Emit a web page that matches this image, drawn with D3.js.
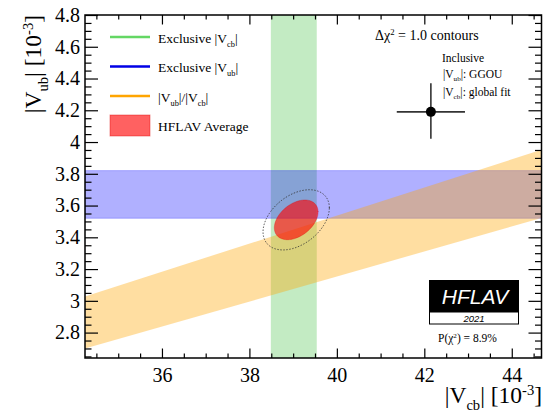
<!DOCTYPE html>
<html>
<head>
<meta charset="utf-8">
<script src="https://cdn.jsdelivr.net/npm/d3@7"></script>
<style>
body { margin: 0; background: #fff; }
svg { display: block; }
text { font-family: "Liberation Serif", "Times New Roman", serif; fill: #000; }
</style>
</head>
<body>
<div id="chart"></div>
<script>
//Chart values (all in units of 10^-3)
var xDomain = [34.24, 44.68];
var yDomain = [2.64, 4.8];
var xTickLabels = [36, 38, 40, 42, 44];
var yTickLabels = [2.8, 3, 3.2, 3.4, 3.6, 3.8, 4, 4.2, 4.4, 4.6, 4.8];

//Exclusive bands, lower and upper edge
var vcbExclusive = [38.49, 39.54];
var vubExclusive = [3.52, 3.82];
//|Vub|/|Vcb| band, lower and upper ratio
var ratioBand = [0.07883, 0.08843];

//HFLAV average: centre, sigmas, correlation
var avgCenter = [39.07, 3.51];
var avgSigma = [0.50, 0.125];
var avgRho = 0.40;
var contourScale = [1, Math.sqrt(2.3)]; //solid = dchi2 1, dotted = 68% 2D

//Inclusive point
var inclPoint = [42.15, 4.19];
var inclErrX = [0.78, 0.78];
var inclErrY = [0.17, 0.18];

//Width and height
var w = 545;
var h = 412;
var plotL = 85, plotR = 541.5, plotT = 15, plotB = 358;

var xScale = d3.scaleLinear().domain(xDomain).range([plotL, plotR]);
var yScale = d3.scaleLinear().domain(yDomain).range([plotB, plotT]);

var svg = d3.select("#chart")
  .append("svg")
  .attr("width", w)
  .attr("height", h);

svg.append("clipPath")
  .attr("id", "plotclip")
  .append("rect")
  .attr("x", plotL).attr("y", plotT)
  .attr("width", plotR - plotL).attr("height", plotB - plotT);

var plot = svg.append("g").attr("clip-path", "url(#plotclip)");

//Green vertical band
plot.append("rect")
  .attr("x", xScale(vcbExclusive[0]))
  .attr("y", plotT)
  .attr("width", xScale(vcbExclusive[1]) - xScale(vcbExclusive[0]))
  .attr("height", plotB - plotT)
  .attr("fill", "rgb(0,170,0)")
  .attr("fill-opacity", 0.235);

//Blue horizontal band
plot.append("rect")
  .attr("x", plotL)
  .attr("y", yScale(vubExclusive[1]))
  .attr("width", plotR - plotL)
  .attr("height", yScale(vubExclusive[0]) - yScale(vubExclusive[1]))
  .attr("fill", "rgb(0,0,255)")
  .attr("fill-opacity", 0.31)
  .attr("stroke", "rgba(0,0,255,0.25)")
  .attr("stroke-width", 1);

//Orange ratio band
var ratioPts = [
  [xDomain[0], ratioBand[0] * xDomain[0]],
  [xDomain[1], ratioBand[0] * xDomain[1]],
  [xDomain[1], ratioBand[1] * xDomain[1]],
  [xDomain[0], ratioBand[1] * xDomain[0]]
];
plot.append("path")
  .attr("d", d3.line()
    .x(function(d) { return xScale(d[0]); })
    .y(function(d) { return yScale(d[1]); })(ratioPts) + "Z")
  .attr("fill", "rgb(255,165,0)")
  .attr("fill-opacity", 0.37);

//Ellipse from centre, sigmas and correlation
var ellipse = function(k) {
  var pts = d3.range(0, 2 * Math.PI + 0.05, 0.04).map(function(t) {
    return [
      avgCenter[0] + k * avgSigma[0] * Math.cos(t),
      avgCenter[1] + k * avgSigma[1] * (avgRho * Math.cos(t) + Math.sqrt(1 - avgRho * avgRho) * Math.sin(t))
    ];
  });
  return d3.line()
    .x(function(d) { return xScale(d[0]); })
    .y(function(d) { return yScale(d[1]); })(pts) + "Z";
};

plot.append("path")
  .attr("d", ellipse(contourScale[0]))
  .attr("fill", "rgb(255,0,0)")
  .attr("fill-opacity", 0.62)
  .attr("stroke", "rgba(220,0,0,0.3)");

plot.append("path")
  .attr("d", ellipse(contourScale[1]))
  .attr("fill", "none")
  .attr("stroke", "#333")
  .attr("stroke-width", 0.8)
  .attr("stroke-dasharray", "1.5,1.5");

//Frame
svg.append("rect")
  .attr("x", plotL).attr("y", plotT)
  .attr("width", plotR - plotL).attr("height", plotB - plotT)
  .attr("fill", "none")
  .attr("stroke", "#000")
  .attr("stroke-width", 1.5);

//Axes: major + minor ticks on all four sides
var near = function(a, b) { return Math.abs(a - b) < 1e-6; };
var xMinor = d3.range(34.5, xDomain[1], 0.5).filter(function(v) {
  return !xTickLabels.some(function(t) { return near(t, v); });
});
var yMinor = d3.range(2.65, yDomain[1] + 0.001, 0.05).filter(function(v) {
  return !yTickLabels.some(function(t) { return near(t, v); });
});

var drawAxis = function(axis, transform, labels) {
  var g = svg.append("g")
    .attr("transform", transform)
    .call(axis);
  g.select(".domain").remove();
  g.selectAll("line").attr("stroke", "#000").attr("stroke-width", 1.2);
  g.attr("font-family", null).attr("font-size", 20);
  g.selectAll("text").attr("fill", "#000");
  if (!labels) g.selectAll("text").remove();
  return g;
};

drawAxis(d3.axisBottom(xScale).tickValues(xTickLabels).tickSize(-9.5).tickPadding(10).tickFormat(d3.format("d")),
  "translate(0," + plotB + ")", true);
drawAxis(d3.axisBottom(xScale).tickValues(xMinor).tickSize(-4.5).tickFormat(""), "translate(0," + plotB + ")", false);
drawAxis(d3.axisTop(xScale).tickValues(xTickLabels).tickSize(-9.5).tickFormat(""), "translate(0," + plotT + ")", false);
drawAxis(d3.axisTop(xScale).tickValues(xMinor).tickSize(-4.5).tickFormat(""), "translate(0," + plotT + ")", false);

drawAxis(d3.axisLeft(yScale).tickValues(yTickLabels).tickSize(-13).tickPadding(5)
  .tickFormat(function(d) { return String(+d.toFixed(1)); }),
  "translate(" + plotL + ",0)", true);
drawAxis(d3.axisLeft(yScale).tickValues(yMinor).tickSize(-6.5).tickFormat(""), "translate(" + plotL + ",0)", false);
drawAxis(d3.axisRight(yScale).tickValues(yTickLabels).tickSize(-13).tickFormat(""), "translate(" + plotR + ",0)", false);
drawAxis(d3.axisRight(yScale).tickValues(yMinor).tickSize(-6.5).tickFormat(""), "translate(" + plotR + ",0)", false);

//Text with sub/superscripts: parts = [[text, "sub"|"sup"|""]]
var richText = function(sel, parts, size) {
  var t = sel.attr("font-size", size);
  var shift = 0;
  parts.forEach(function(p) {
    var dy = 0, fs = size;
    if (p[1] === "sub") { fs = size * 0.62; dy = size * 0.3; }
    if (p[1] === "sup") { fs = size * 0.62; dy = -size * 0.36; }
    t.append("tspan")
      .attr("dy", dy - shift)
      .attr("font-size", fs)
      .text(p[0]);
    shift = dy;
  });
  return t;
};

//Axis titles
richText(svg.append("text")
  .attr("x", 542).attr("y", 403)
  .attr("text-anchor", "end"),
  [["|V", ""], ["cb", "sub"], ["| [10", ""], ["-3", "sup"], ["]", ""]], 23.5);

richText(svg.append("text")
  .attr("transform", "translate(41,15) rotate(-90)")
  .attr("text-anchor", "end"),
  [["|V", ""], ["ub", "sub"], ["| [10", ""], ["-3", "sup"], ["]", ""]], 23.5);

//Legend
var legendParts = [
  [["Exclusive |V", ""], ["cb", "sub"], ["|", ""]],
  [["Exclusive |V", ""], ["ub", "sub"], ["|", ""]],
  [["|V", ""], ["ub", "sub"], ["|/|V", ""], ["cb", "sub"], ["|", ""]],
  [["HFLAV Average", ""]]
];
var legendColors = ["rgb(100,215,100)", "rgb(0,0,230)", "rgb(255,165,0)", null];
var legendY = [37, 66.5, 96, 125.5];

legendParts.forEach(function(parts, i) {
  if (legendColors[i]) {
    svg.append("line")
      .attr("x1", 110).attr("x2", 150)
      .attr("y1", legendY[i]).attr("y2", legendY[i])
      .attr("stroke", legendColors[i])
      .attr("stroke-width", 2.5);
  } else {
    svg.append("rect")
      .attr("x", 110).attr("y", legendY[i] - 10.5)
      .attr("width", 40).attr("height", 21)
      .attr("fill", "rgb(255,0,0)")
      .attr("fill-opacity", 0.62)
      .attr("stroke", "rgba(220,0,0,0.4)");
  }
  richText(svg.append("text")
    .attr("x", 158).attr("y", legendY[i] + 5.5), parts, 13.5);
});

//Annotations
richText(svg.append("text").attr("x", 375).attr("y", 40),
  [["\u0394\u03c7", ""], ["2", "sup"], [" = 1.0 contours", ""]], 14);

richText(svg.append("text").attr("x", 442).attr("y", 62),
  [["Inclusive", ""]], 11.5);
richText(svg.append("text").attr("x", 443).attr("y", 78),
  [["|V", ""], ["ub", "sub"], ["|: GGOU", ""]], 11.5);
richText(svg.append("text").attr("x", 443).attr("y", 96),
  [["|V", ""], ["cb", "sub"], ["|: global fit", ""]], 11.5);

//Inclusive point with errors
svg.append("line")
  .attr("x1", xScale(inclPoint[0] - inclErrX[0]))
  .attr("x2", xScale(inclPoint[0] + inclErrX[1]))
  .attr("y1", yScale(inclPoint[1])).attr("y2", yScale(inclPoint[1]))
  .attr("stroke", "#333").attr("stroke-width", 1.6);
svg.append("line")
  .attr("x1", xScale(inclPoint[0])).attr("x2", xScale(inclPoint[0]))
  .attr("y1", yScale(inclPoint[1] - inclErrY[0]))
  .attr("y2", yScale(inclPoint[1] + inclErrY[1]))
  .attr("stroke", "#333").attr("stroke-width", 1.6);
svg.append("circle")
  .attr("cx", xScale(inclPoint[0])).attr("cy", yScale(inclPoint[1]))
  .attr("r", 5)
  .attr("fill", "#000");

//HFLAV logo
var logo = svg.append("g");
logo.append("rect")
  .attr("x", 429).attr("y", 280).attr("width", 90).attr("height", 32)
  .attr("fill", "#000");
logo.append("rect")
  .attr("x", 429.5).attr("y", 312).attr("width", 89).attr("height", 12)
  .attr("fill", "#fff").attr("stroke", "#000");
logo.append("text")
  .attr("x", 475).attr("y", 303.5)
  .attr("text-anchor", "middle")
  .attr("font-size", 21)
  .attr("font-style", "italic")
  .style("font-family", "'Liberation Sans', Arial, sans-serif")
  .style("fill", "#fff")
  .text("HFLAV");
logo.append("text")
  .attr("x", 474).attr("y", 322)
  .attr("text-anchor", "middle")
  .attr("font-size", 9.5)
  .attr("font-style", "italic")
  .style("font-family", "'Liberation Sans', Arial, sans-serif")
  .text("2021");

richText(svg.append("text").attr("x", 438).attr("y", 342),
  [["P(\u03c7", ""], ["2", "sup"], [") = 8.9%", ""]], 11.5);
</script>
</body>
</html>
